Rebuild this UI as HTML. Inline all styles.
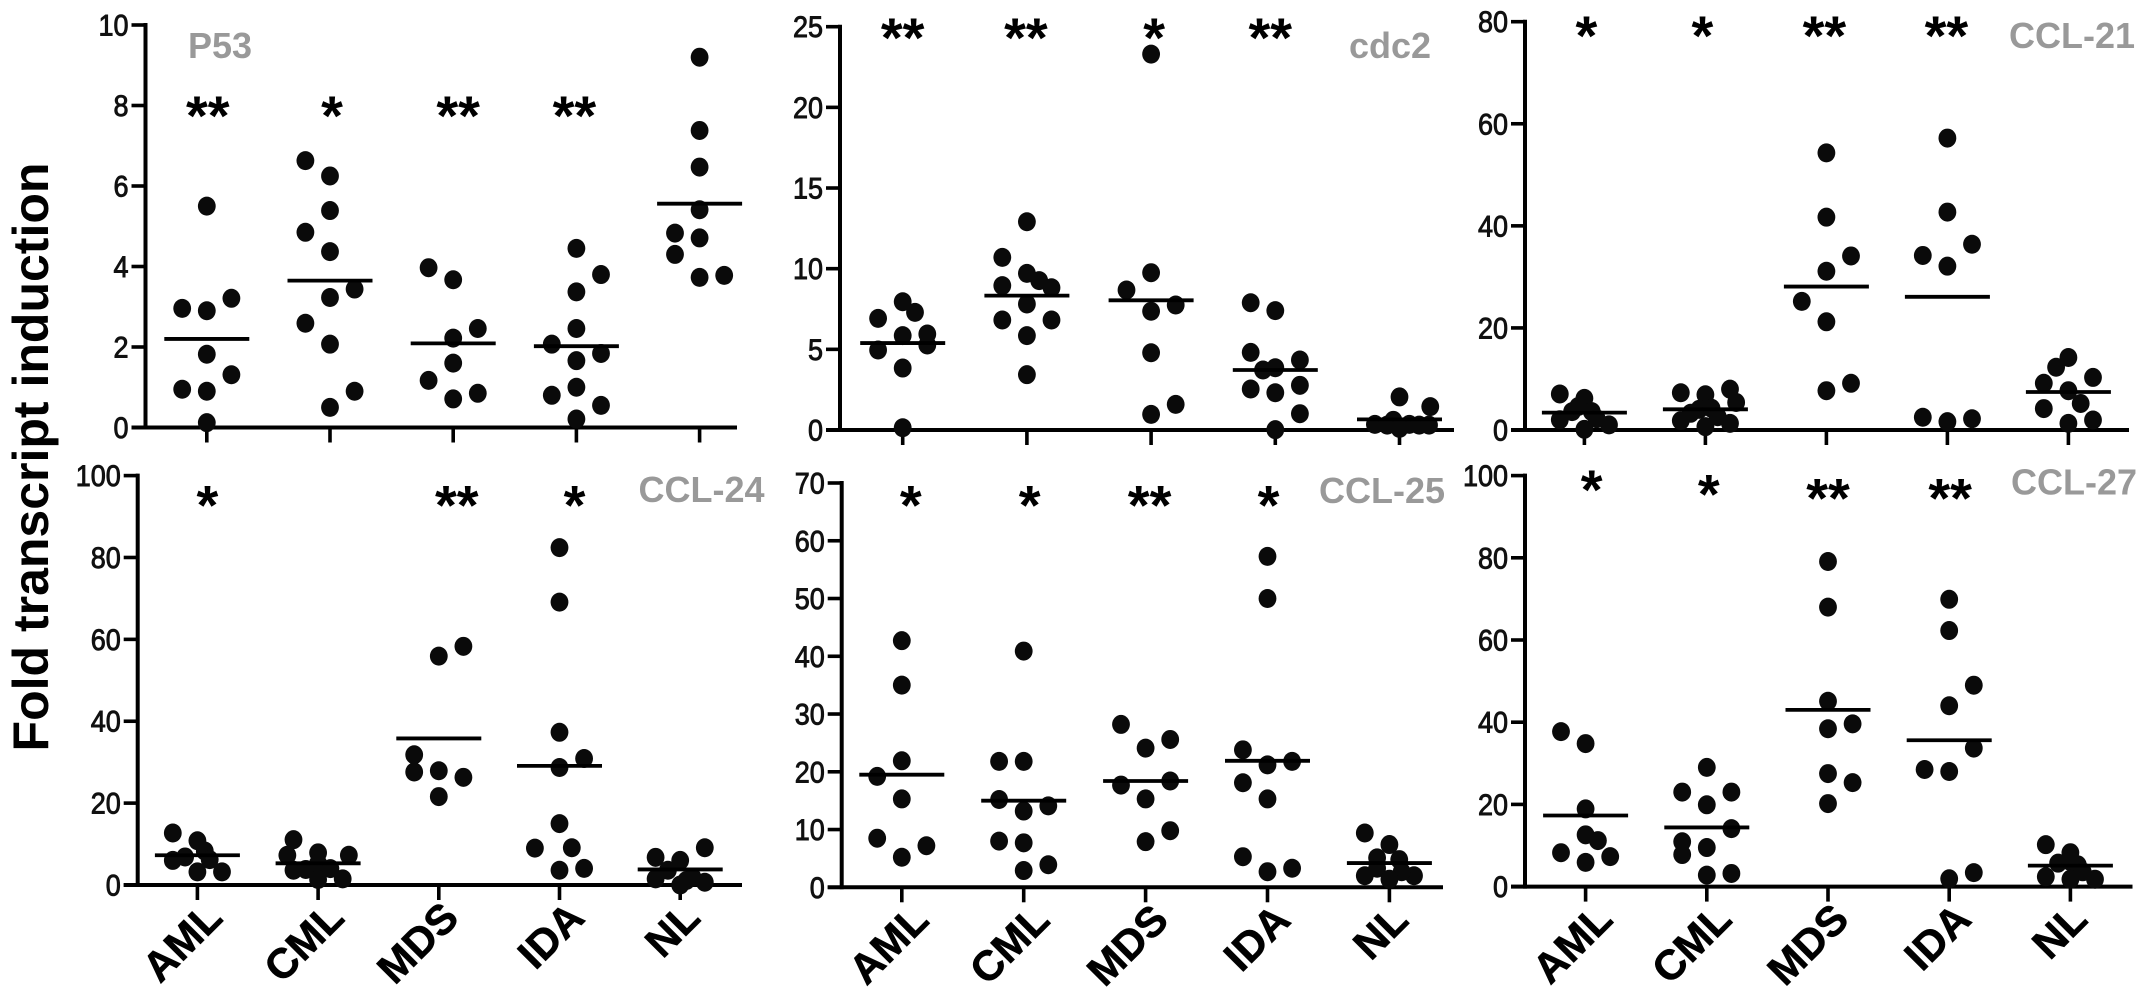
<!DOCTYPE html>
<html lang="en">
<head>
<meta charset="utf-8">
<title>Fold transcript induction by diagnosis</title>
<style>
html,body{margin:0;padding:0;background:#fff;}
#figure{display:block;width:2150px;height:999px;background:#fff;font-family:"Liberation Sans",Arial,sans-serif;}
.tick-label{font-size:30px;fill:#111;stroke:#111;stroke-width:.9px;text-anchor:end;}
.cat-label{font-size:42px;font-weight:bold;fill:#000;stroke:#000;stroke-width:.6px;text-anchor:end;}
.gene{font-size:36px;font-weight:bold;fill:#999;}
.star{font-size:56px;font-weight:bold;fill:#000;text-anchor:middle;}
</style>
</head>
<body>
<svg id="figure" xmlns="http://www.w3.org/2000/svg" width="2150" height="999" viewBox="0 0 2150 999">
<text transform="translate(48,457) rotate(-90)" text-anchor="middle" font-size="50" font-weight="bold" fill="#000">Fold transcript induction</text>
</svg>
<script>
const categories = ['AML','CML','MDS','IDA','NL'];

const p53Ticks = [0,2,4,6,8,10];
const p53Values = [
 [5.5,2.96,2.9,3.21,1.82,1.31,.95,.9,.12],
 [6.63,6.25,5.39,4.85,4.37,3.44,3.23,2.59,2.07,.9,.5],
 [3.97,3.67,2.46,2.22,1.6,1.17,.85,.71],
 [4.45,3.8,3.37,2.46,2.07,1.84,1.66,1,.8,.55,.21],
 [9.2,7.38,6.47,5.41,4.83,4.71,4.3,3.73,3.78]
];
const p53Slots = [
 [0,-1,0,1,0,1,-1,0,0],
 [-1,0,0,-1,0,1,0,-1,0,1,0],
 [-1,0,1,0,0,-1,1,0],
 [0,1,0,0,-1,1,0,0,-1,1,0],
 [0,0,0,0,-1,0,-1,0,1]
];
const p53Means = [2.2,3.65,2.09,2.02,5.56];
const p53Stars = ['**','*','**','**',''];

const cdc2Ticks = [0,5,10,15,20,25];
const cdc2Values = [
 [6.92,7.95,7.29,5.85,5.95,5.27,4.96,3.84,.14],
 [12.91,10.7,9.71,9.26,8.82,8.95,7.81,6.82,6.82,5.85,3.43],
 [23.3,9.75,8.68,7.75,7.36,4.79,1.59,.97],
 [7.89,7.4,4.81,4.34,3.72,3.86,2.77,2.54,2.31,1.01,.02],
 [2.05,1.45,.6,.35,.3,.35,.1,.3,.3]
];
const cdc2Slots = [
 [-1,0,.5,0,1,1,-1,0,0],
 [0,-1,0,.5,1,-1,0,-1,1,0,0],
 [0,0,-1,1,0,0,1,0],
 [-1,0,-1,1,-.5,0,1,-1,0,1,0],
 [0,1.25,-.25,-1,-.5,.4,0,.8,1.2]
];
const cdc2Means = [5.39,8.33,8.04,3.72,.66];
const cdc2Stars = ['**','**','*','**',''];

const ccl21Ticks = [0,20,40,60,80];
const ccl21Values = [
 [7.06,6.2,3.6,4.6,3.6,2,2.2,1,.13],
 [7.3,6.9,8,5.4,4.05,4.25,3.27,2.6,1.83,1.3,.65],
 [54.3,41.7,34.1,31.1,25.2,21.2,9.15,7.7],
 [57.2,42.7,36.4,34.2,32.1,2.5,1.63,2.2],
 [14.2,12.3,10.3,9.15,7.7,5.2,4.2,1.96,1.3]
];
const ccl21Slots = [
 [-1,0,-.5,-.25,.3,-1,.5,1,0],
 [-1,0,1,1.25,-.25,.25,-.6,.5,-1,1,0],
 [0,0,1,0,-1,0,1,0],
 [0,0,1,-1,0,-1,0,1],
 [0,-.5,1,-1,0,.5,-1,1,0]
];
const ccl21Means = [3.4,4.05,28.1,26.1,7.45];
const ccl21Stars = ['*','*','**','**',''];

const ccl24Ticks = [0,20,40,60,80,100];
const ccl24Values = [
 [12.7,10.8,8.3,6,6.85,6.2,3.2,3.2],
 [11.07,7.27,7.86,7.27,3.6,3.8,5.3,4,1.35,1.5],
 [58.3,55.9,31.8,27.6,27.9,26.3,21.6],
 [82.4,69.1,37.3,30.9,28.7,15,9,9.1,3.6,4.06],
 [6.76,6,9.1,3.6,1.5,1.9,.68,0,1.1]
];
const ccl24Slots = [
 [-1,0,.3,-1,-.5,.5,0,1],
 [-1,-1.25,0,1.25,-1,-.5,0,.5,0,1],
 [1,0,-1,-1,0,1,0],
 [0,0,0,1,0,0,-1,.5,0,1],
 [-1,0,1,-.5,-1,.5,1,0,.25]
];
const ccl24Means = [7.27,5.3,35.8,29.1,3.8];
const ccl24Stars = ['*','','**','*',''];

const ccl25Ticks = [0,10,20,30,40,50,60,70];
const ccl25Values = [
 [42.7,35,21.9,19.2,15.3,8.5,7.2,5.2],
 [40.9,21.8,21.8,15.2,14.1,13.2,8,7.7,3.9,2.9],
 [28.2,25.6,24.1,17.7,18.4,15.3,9.8,7.9],
 [57.3,50,23.8,21.2,21.8,18.1,15.3,5.3,3.3,2.7],
 [9.4,7.4,5.1,4.8,3.3,2,2,2.7,1.4]
];
const ccl25Slots = [
 [0,0,0,-1,0,-1,1,0],
 [0,-1,0,-1,1,0,-1,0,1,0],
 [-1,1,0,-1,1,0,1,0],
 [0,0,-1,0,1,-1,0,-1,1,0],
 [-1,0,-.5,.4,-.5,-1,1,.5,0]
];
const ccl25Means = [19.5,15,18.4,21.9,4.2];
const ccl25Stars = ['*','*','**','*',''];

const ccl27Ticks = [0,20,40,60,80,100];
const ccl27Values = [
 [37.7,34.8,18.9,12.6,11.2,8.25,7.3,5.9],
 [29,23,23,19.9,14.1,10.9,9.5,7.8,3.2,2.8],
 [79.1,68,45.1,39.6,38.4,27.5,25.3,20.2],
 [69.9,62.3,49,44,33.7,28.5,28,3.4,1.9],
 [10.2,8.25,5.7,6.1,5.3,2.4,3.6,1.8,1.8]
];
const ccl27Slots = [
 [-1,0,0,0,.5,-1,1,0],
 [0,-1,1,0,1,-1,0,-1,1,0],
 [0,0,0,1,0,0,1,0],
 [0,0,1,0,1,-1,0,1,0],
 [-1,0,-.5,0,.3,-1,.5,0,1]
];
const ccl27Means = [17.3,14.4,43,35.6,5.1];
const ccl27Stars = ['*','*','**','**',''];

const svgNS = 'http://www.w3.org/2000/svg';
const figure = document.getElementById('figure');

function shape(parent, tag, props) {
  const el = document.createElementNS(svgNS, tag);
  for (const key in props) el.setAttribute(key, props[key]);
  parent.appendChild(el);
  return el;
}

function drawPanel(cfg) {
  const xScale = (group, slot) => cfg.firstCat + group * cfg.catStep + slot * 24.6;
  const yScale = v => cfg.y0 - v / cfg.max * (cfg.y0 - cfg.yTop);

  const g = shape(figure, 'g', {});
  
  

  const yAxis = shape(g, 'line', {x1: cfg.axisX, x2: cfg.axisX, y1: yScale(cfg.max) - 2, y2: cfg.y0 + 2, stroke: '#000', 'stroke-width': 4});
  
  

  const xAxis = shape(g, 'line', {x1: cfg.axisX - 14, x2: cfg.axisEnd, y1: cfg.y0, y2: cfg.y0, stroke: '#000', 'stroke-width': 4});
  
  

  cfg.ticks.forEach(t => {
    const mark = shape(g, 'line', {x1: cfg.axisX - 14, x2: cfg.axisX, y1: yScale(t), y2: yScale(t), stroke: '#000', 'stroke-width': 3.6});
    
    
    const label = shape(g, 'text', {class: 'tick-label', transform: 'translate(' + (cfg.axisX - 17) + ',' + (yScale(t) + 10.5) + ') scale(.9,1)'});
    label.textContent = t;
    
    
  });

  categories.forEach((cat, i) => {
    const cx = xScale(i, 0);
    const tick = shape(g, 'line', {x1: cx, x2: cx, y1: cfg.y0, y2: cfg.y0 + 15, stroke: '#000', 'stroke-width': 3.6});
    
    

    if (cfg.showCats) {
      const label = shape(g, 'text', {class: 'cat-label', transform: 'translate(' + (cx + 27 + cfg.labelDx[i]) + ',' + (cfg.y0 + 35) + ') rotate(-45)'});
      label.textContent = cat;
      
      
    }

    cfg.values[i].forEach((v, k) => {
      const dot = shape(g, 'ellipse', {cx: xScale(i, cfg.slots[i][k]), cy: yScale(v), rx: 8.9, ry: 9.5, fill: '#0a0a0a'});
      
      
    });

    const mean = shape(g, 'line', {x1: cx - 42.5, x2: cx + 42.5, y1: yScale(cfg.means[i]), y2: yScale(cfg.means[i]), stroke: '#000', 'stroke-width': 3.8});
    
    

    if (cfg.stars[i]) {
      const star = shape(g, 'text', {class: 'star', x: cx + cfg.starDx[i], y: cfg.starY[i] + 30});
      star.textContent = cfg.stars[i];
      
      
    }
  });

  const gene = shape(g, 'text', {class: 'gene', x: cfg.geneX, y: cfg.geneY, 'text-anchor': cfg.geneAnchor});
  gene.textContent = cfg.id === 'p53' ? 'P53' : cfg.id === 'cdc2' ? 'cdc2' : cfg.id.toUpperCase().replace('CCL', 'CCL-');
  
  
}

drawPanel({id:'p53', axisX:145.5, axisEnd:737, y0:427.5, yTop:25, max:10, firstCat:206.8, catStep:123.2, showCats:false,
  ticks:p53Ticks, values:p53Values, slots:p53Slots, means:p53Means, stars:p53Stars,
  starDx:[1,2,5,-2,0], starY:[105,105,105,105,105], geneX:188, geneY:58, geneAnchor:'start'});

drawPanel({id:'cdc2', axisX:840, axisEnd:1454, y0:430, yTop:26.7, max:25, firstCat:902.7, catStep:124.2, showCats:false,
  ticks:cdc2Ticks, values:cdc2Values, slots:cdc2Slots, means:cdc2Means, stars:cdc2Stars,
  starDx:[0,-1,3,-5,0], starY:[27,27,27,27,27], geneX:1431, geneY:58, geneAnchor:'end'});

drawPanel({id:'ccl21', axisX:1525, axisEnd:2129, y0:430, yTop:21.7, max:80, firstCat:1584.4, catStep:121, showCats:false,
  ticks:ccl21Ticks, values:ccl21Values, slots:ccl21Slots, means:ccl21Means, stars:ccl21Stars,
  starDx:[2,-3,-2,-1,0], starY:[25,25,25,25,25], geneX:2135, geneY:48, geneAnchor:'end'});

drawPanel({id:'ccl24', axisX:137.7, axisEnd:742, y0:885, yTop:475.6, max:100, firstCat:197.4, catStep:120.7, showCats:true,
  labelDx:[0,1,-5,0,-5],
  ticks:ccl24Ticks, values:ccl24Values, slots:ccl24Slots, means:ccl24Means, stars:ccl24Stars,
  starDx:[10,0,18,15,0], starY:[494.6,494.6,494.6,494.6,494.6], geneX:764.5, geneY:502, geneAnchor:'end'});

drawPanel({id:'ccl25', axisX:841.7, axisEnd:1443, y0:887.3, yTop:483, max:70, firstCat:901.8, catStep:121.9, showCats:true,
  labelDx:[2,1,-2,-2,-6],
  ticks:ccl25Ticks, values:ccl25Values, slots:ccl25Slots, means:ccl25Means, stars:ccl25Stars,
  starDx:[9,6,4,1,0], starY:[494.6,494.6,494.6,494.6,494.6], geneX:1445, geneY:503, geneAnchor:'end'});

drawPanel({id:'ccl27', axisX:1525, axisEnd:2132.5, y0:886.6, yTop:475.6, max:100, firstCat:1585.6, catStep:121.2, showCats:true,
  labelDx:[2,0,-4,-3,-8],
  ticks:ccl27Ticks, values:ccl27Values, slots:ccl27Slots, means:ccl27Means, stars:ccl27Stars,
  starDx:[6,2,0,1,0], starY:[479,483.5,487.7,487.7,0], geneX:2137, geneY:494.6, geneAnchor:'end'});
</script>
</body>
</html>
